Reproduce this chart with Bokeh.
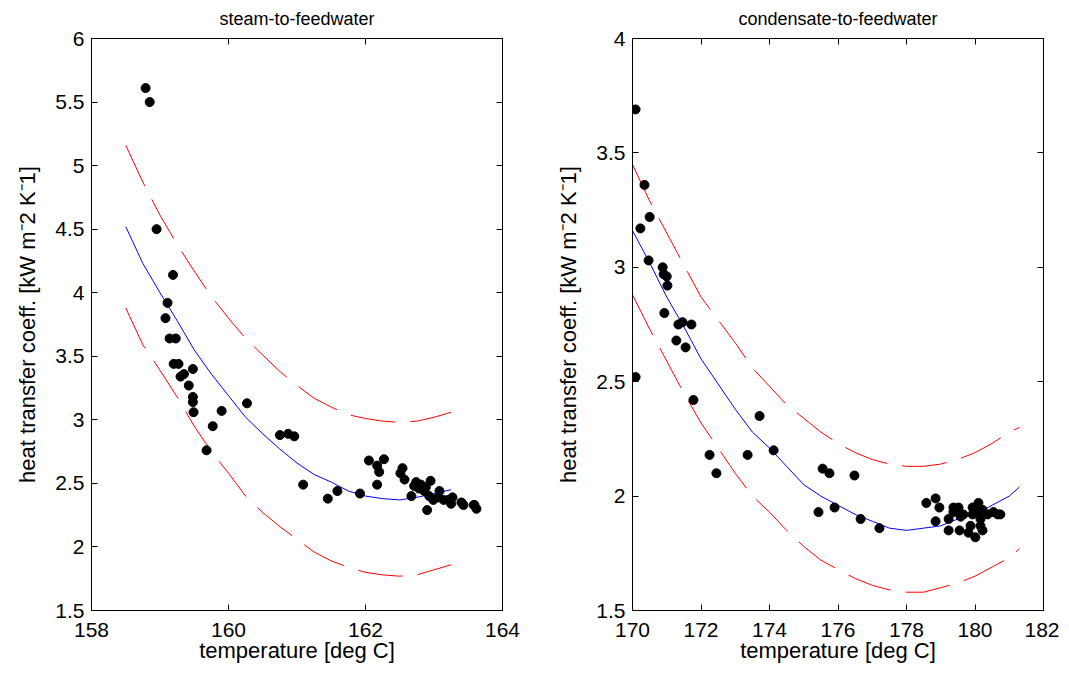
from bokeh.plotting import figure
from bokeh.layouts import row
from bokeh.models import LinearAxis, FixedTicker, Range1d
from bokeh.embed import file_html
from bokeh.resources import INLINE

# ---------------- data: steam-to-feedwater ----------------
s_temp = [158.79, 158.85, 158.95, 159.19, 159.11, 159.08, 159.14, 159.23, 159.20, 159.27,
          159.30, 159.35, 159.42, 159.48, 159.48, 159.49, 159.48, 160.27, 159.77, 159.68,
          159.90, 160.75, 160.87, 160.96, 161.09, 161.45, 161.59, 161.92, 162.05, 162.17,
          162.20, 162.27, 162.17, 162.54, 162.51, 162.57, 162.67, 162.71, 162.74, 162.81,
          162.90, 162.95, 162.86, 162.93, 162.99, 163.08, 163.06, 163.14, 163.21, 163.27,
          163.25, 163.40, 163.43, 163.58, 163.62, 163.59, 162.78, 162.88]
s_htc = [5.61, 5.50, 4.50, 4.14, 3.92, 3.80, 3.64, 3.64, 3.44, 3.44,
         3.34, 3.36, 3.27, 3.18, 3.14, 3.06, 3.40, 3.13, 2.95, 2.76,
         3.07, 2.88, 2.89, 2.87, 2.49, 2.38, 2.44, 2.42, 2.68, 2.64,
         2.59, 2.69, 2.49, 2.62, 2.58, 2.53, 2.40, 2.48, 2.51, 2.49,
         2.29, 2.52, 2.44, 2.40, 2.37, 2.44, 2.39, 2.37, 2.37, 2.39,
         2.34, 2.35, 2.33, 2.33, 2.30, 2.33, 2.46, 2.47]
s_fit_t = [158.5, 158.75, 159.0, 159.25, 159.5, 159.75, 160.0, 160.25, 160.5, 160.75,
           161.0, 161.25, 161.5, 161.75, 162.0, 162.25, 162.5, 162.75, 163.0, 163.25]
s_fit = [4.52, 4.23, 4.00, 3.78, 3.55, 3.36, 3.19, 3.02, 2.89, 2.77,
         2.66, 2.57, 2.51, 2.44, 2.40, 2.38, 2.37, 2.39, 2.42, 2.45]
s_upper = [5.16, 4.87, 4.61, 4.38, 4.17, 3.97, 3.80, 3.64, 3.51, 3.38,
           3.27, 3.17, 3.10, 3.04, 3.01, 2.99, 2.98, 2.99, 3.02, 3.06]
s_lower = [3.88, 3.59, 3.39, 3.18, 2.95, 2.75, 2.58, 2.40, 2.27, 2.16,
           2.06, 1.96, 1.89, 1.84, 1.80, 1.78, 1.77, 1.78, 1.82, 1.86]
s_xticks = [158, 160, 162, 164]
s_yticks = [1.5, 2, 2.5, 3, 3.5, 4, 4.5, 5, 5.5, 6]

# ---------------- data: condensate-to-feedwater ----------------
c_temp = [170.09, 170.35, 170.23, 170.50, 170.47, 170.88, 170.91, 171.00, 171.02, 170.93,
          171.34, 171.46, 171.72, 171.28, 171.55, 170.09, 171.78, 173.71, 174.12, 172.25,
          173.36, 172.45, 175.55, 175.75, 176.48, 175.43, 175.90, 176.66, 177.21, 178.58,
          178.85, 178.96, 178.85, 179.23, 179.23, 179.37, 179.52, 179.37, 179.58, 179.66,
          179.55, 179.93, 180.10, 179.93, 180.07, 180.22, 180.16, 179.87, 180.16, 179.81,
          180.01, 180.22, 180.37, 180.54, 180.66, 180.74]
c_htc = [3.69, 3.36, 3.17, 3.22, 3.03, 3.00, 2.97, 2.96, 2.92, 2.80,
         2.75, 2.76, 2.75, 2.68, 2.65, 2.52, 2.42, 2.35, 2.20, 2.18,
         2.18, 2.10, 2.12, 2.10, 2.09, 1.93, 1.95, 1.90, 1.86, 1.97,
         1.99, 1.95, 1.89, 1.90, 1.85, 1.95, 1.95, 1.93, 1.91, 1.92,
         1.85, 1.95, 1.97, 1.92, 1.93, 1.94, 1.90, 1.87, 1.87, 1.84,
         1.82, 1.85, 1.92, 1.93, 1.92, 1.92]
c_fit_t = [170.0, 170.5, 171.0, 171.5, 172.0, 172.5, 173.0, 173.5, 174.0, 174.5, 175.0, 175.5,
           176.0, 176.5, 177.0, 177.5, 178.0, 178.5, 179.0, 179.5, 180.0, 180.5, 181.0, 181.3]
c_fit = [3.16, 3.02, 2.87, 2.74, 2.60, 2.49, 2.38, 2.28, 2.21, 2.13, 2.05, 2.00,
         1.96, 1.92, 1.89, 1.86, 1.85, 1.86, 1.87, 1.90, 1.92, 1.96, 2.00, 2.04]
c_upper = [3.45, 3.29, 3.15, 3.01, 2.87, 2.77, 2.67, 2.56, 2.48, 2.40, 2.34, 2.28,
           2.23, 2.19, 2.16, 2.14, 2.13, 2.13, 2.14, 2.16, 2.19, 2.23, 2.28, 2.30]
c_lower = [2.88, 2.73, 2.59, 2.45, 2.32, 2.21, 2.10, 2.00, 1.93, 1.85, 1.78, 1.72,
           1.68, 1.64, 1.61, 1.59, 1.58, 1.58, 1.60, 1.62, 1.65, 1.69, 1.73, 1.77]
c_xticks = [170, 172, 174, 176, 178, 180, 182]
c_yticks = [1.5, 2, 2.5, 3, 3.5, 4]

FONT = "Liberation Sans"
TICK_FS = "21px"
LABEL_FS = "22px"
TITLE_FS = "18px"
YLABEL = "heat transfer coeff. [kW m\u207b2 K\u207b1]"
XLABEL = "temperature [deg C]"


def fmt(v):
    return ("%g" % v)


def make(title, xr, yr, xt, yt, tx, ty, ft, fm, fu, fl, mbl, mbr):
    p = figure(output_backend="svg", toolbar_location=None,
               x_range=Range1d(*xr), y_range=Range1d(*yr),
               frame_width=411, frame_height=572,
               min_border_left=mbl, min_border_right=mbr,
               min_border_top=0, min_border_bottom=60,
               title=title, x_axis_location=None, y_axis_location=None)
    p.title.align = "center"
    p.title.vertical_align = "top"
    p.title.text_font = FONT
    p.title.text_font_size = TITLE_FS
    p.title.text_font_style = "normal"
    p.title.text_color = "black"
    p.title.standoff = 16
    p.xgrid.visible = False
    p.ygrid.visible = False
    p.outline_line_color = "black"
    p.outline_line_width = 1
    p.background_fill_color = "white"
    p.border_fill_color = "white"

    xb = LinearAxis(ticker=FixedTicker(ticks=xt),
                    major_label_overrides={v: fmt(v) for v in xt})
    yl = LinearAxis(ticker=FixedTicker(ticks=yt),
                    major_label_overrides={v: fmt(v) for v in yt})
    xa = LinearAxis(ticker=FixedTicker(ticks=xt))
    yr_ax = LinearAxis(ticker=FixedTicker(ticks=yt))
    for ax in (xb, yl, xa, yr_ax):
        ax.major_tick_in = 6
        ax.major_tick_out = 0
        ax.minor_tick_line_color = None
        ax.axis_line_color = "black"
        ax.major_tick_line_color = "black"
        ax.major_label_text_font = FONT
        ax.axis_label_text_font = FONT
        ax.axis_label_text_font_style = "normal"
        ax.axis_label_text_font_size = LABEL_FS
        ax.axis_label_text_color = "black"
    for ax in (xb, yl):
        ax.major_label_text_font_size = TICK_FS
        ax.major_label_text_color = "black"
    for ax in (xa, yr_ax):
        ax.major_label_text_font_size = "1px"
        ax.major_label_text_color = None
        ax.major_label_standoff = 0
    xa.major_label_standoff = 15
    xb.axis_label = XLABEL
    xb.major_label_standoff = 12
    xb.axis_label_standoff = -2
    yl.axis_label = YLABEL
    yl.major_label_standoff = 7
    yl.axis_label_standoff = 12
    p.add_layout(xb, "below")
    p.add_layout(yl, "left")
    p.add_layout(xa, "above")
    p.add_layout(yr_ax, "right")

    p.line(ft, fm, line_color="#0000ff", line_width=1)
    p.line(ft, fu, line_color="#ff0000", line_width=1, line_dash="45 15")
    p.line(ft, fl, line_color="#ff0000", line_width=1, line_dash="45 15")
    p.scatter(tx, ty, size=9, fill_color="black", line_color="black")
    return p


p1 = make("steam-to-feedwater", (158, 164), (1.5, 6), s_xticks, s_yticks,
          s_temp, s_htc, s_fit_t, s_fit, s_upper, s_lower, 91, 20)
p2 = make("condensate-to-feedwater", (170, 182), (1.5, 4), c_xticks, c_yticks,
          c_temp, c_htc, c_fit_t, c_fit, c_upper, c_lower, 110, 16)

lay = row(p1, p2)
open("out.html", "w").write(file_html(lay, INLINE))
